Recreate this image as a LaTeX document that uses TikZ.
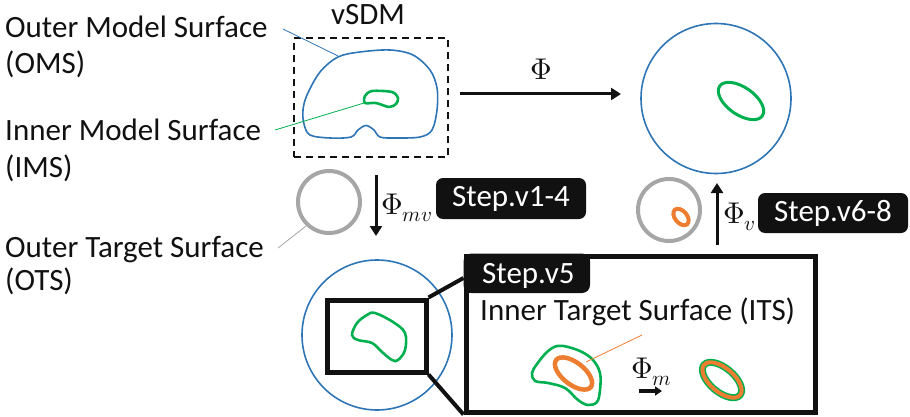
\documentclass[tikz,border=0pt]{standalone}
\usepackage{fontspec}
\usepackage{unicode-math}
\setmainfont{Carlito}
\setmathfont{Latin Modern Math}
\usetikzlibrary{arrows.meta}
\definecolor{cblue}{HTML}{2E75B6}
\definecolor{cgreen}{HTML}{00B050}
\definecolor{corange}{HTML}{ED7D31}
\definecolor{cgray}{HTML}{A6A6A6}
\definecolor{cblack}{HTML}{111111}
\begin{document}
\begin{tikzpicture}[x=1pt,y=-1pt,
  lbl/.style={font=\fontsize{31}{36}\selectfont, anchor=base west, inner sep=0pt, text=cblack},
  mlbl/.style={font=\fontsize{30}{34}\selectfont, inner sep=0pt, text=cblack},
  stepbox/.style={fill=cblack, text=white, rounded corners=7pt, inner sep=0pt,
     minimum width=150pt, minimum height=41pt, font=\fontsize{31}{36}\selectfont},
  bigarrow/.style={draw=cblack, line width=3pt, -{Triangle[length=10pt,width=12pt]}},
  bluec/.style={draw=cblue, line width=1.6pt},
  greenc/.style={draw=cgreen, line width=2.6pt},
  orangec/.style={draw=corange, line width=4.5pt},
  grayc/.style={draw=cgray, line width=4pt},
  leader/.style={line width=0.8pt}]
\useasboundingbox (0,0) rectangle (910,417);

% ---- left labels
\node[lbl] (oms1) at (5,38) {Outer Model Surface};
\node[lbl] (oms2) at (5,74) {(OMS)};
\node[lbl] (ims1) at (5,140) {Inner Model Surface};
\node[lbl] (ims2) at (5,177) {(IMS)};
\node[lbl] (ots1) at (5,257) {Outer Target Surface};
\node[lbl] (ots2) at (5,290) {(OTS)};

% ---- vSDM box
\node[lbl, anchor=base] (vsdmt) at (368,25) {vSDM};
\node[draw=cblack, line width=1.8pt, dash pattern=on 7pt off 5pt, minimum width=154pt,
      minimum height=119pt, inner sep=0pt] (vsdm) at (371,97.5) {};
\draw[bluec] plot[smooth cycle, tension=0.55] coordinates {
  (338,57) (360,52) (390,50) (413,55) (430,70) (437,88) (437,110) (432,130)
  (420,137) (395,138) (380,137) (374,130) (366,125.5) (358,130) (351,137) (330,138) (310,135)
  (304,124) (303,110) (307,95) (320,72)};
\draw[greenc] plot[smooth cycle, tension=0.5] coordinates {
  (365,96) (372,91) (392,92) (398,98) (396,104) (389,107) (376,103) (365,103)};
\coordinate (omsA) at (283,29);
\coordinate (omsB) at (338,56);
\coordinate (imsA) at (275,130);
\coordinate (imsB) at (364,103);
\draw[leader, cblue] (omsA) -- (omsB);
\draw[leader, cgreen] (imsA) -- (imsB);

% ---- Phi arrow
\coordinate (phiA) at (460,94);
\coordinate (phiB) at (621,94);
\draw[bigarrow] (phiA) -- (phiB);
\node[mlbl, anchor=base] (phil) at (541,80) {$\Phi$};

% ---- top right circle
\node[circle, draw=cblue, line width=1.6pt, minimum size=150pt, inner sep=0pt] (trc) at (716,98.5) {};
\draw[greenc, line width=3pt, rotate around={-35:(741,101)}] (741,101) ellipse[x radius=26pt, y radius=13.7pt];

% ---- left gray circle + phi_mv
\node[circle, grayc, minimum size=62pt, inner sep=0pt] (otsc) at (329,202) {};
\coordinate (otsA) at (278,248);
\coordinate (otsB) at (306,226);
\draw[leader, cgray] (otsA) -- (otsB);
\coordinate (mvA) at (376,175);
\coordinate (mvB) at (376,236);
\draw[bigarrow] (mvA) -- (mvB);
\node[mlbl, anchor=base west] (mvl) at (381,214) {$\Phi_{mv}$};
\node[stepbox] (s14) at (511,198.5) {Step.v1-4};

% ---- right gray circle + phi_v
\node[circle, grayc, minimum size=62pt, inner sep=0pt] (itsc) at (669,210) {};
\draw[corange, line width=4pt, rotate around={-50:(681,217)}] (681,217) ellipse[x radius=9.5pt, y radius=6pt];
\coordinate (vA) at (717,245);
\coordinate (vB) at (717,183);
\draw[bigarrow] (vA) -- (vB);
\node[mlbl, anchor=base west] (vl) at (723,223) {$\Phi_{v}$};
\node[stepbox, minimum height=40pt] (s68) at (833,213) {Step.v6-8};

% ---- bottom left circle
\node[circle, draw=cblue, line width=1.6pt, minimum size=150pt, inner sep=0pt] (blc) at (377,335) {};
\node[draw=cblack, line width=5pt, minimum width=99pt, minimum height=72pt, inner sep=0pt] (zoomr) at (376.5,336) {};
\draw[greenc] plot[smooth cycle, tension=0.6] coordinates {
  (352,335) (357,323) (367,315) (375,313) (393,322) (405,333) (405,350)
  (398,360) (392,360) (382,352) (372,343) (358,340)};

% ---- big box
\node[draw=cblack, line width=5pt, minimum width=349pt, minimum height=156pt, inner sep=0pt] (bigbox) at (640.5,334) {};
\draw[cblack, line width=4pt] (zoomr.north east) -- (bigbox.north west |- 0,278);
\draw[cblack, line width=4pt] (zoomr.south east) -- (bigbox.south west);
\fill[cblack, rounded corners=8pt] (463.5,253.5) rectangle (590,293);
\fill[cblack] (463.5,253.5) rectangle (580,293);
\fill[cblack] (463.5,253.5) rectangle (590,283);
\node[lbl, text=white] (s5) at (482,283) {Step.v5};
\node[lbl] (itst) at (480,320) {Inner Target Surface (ITS)};

\draw[greenc] plot[smooth cycle, tension=0.6] coordinates {
  (532,373) (537,364) (547,352) (557,346) (568,347) (582,352) (593,360)
  (600,373) (600,390) (597,402) (588,405) (578,400) (565,388) (548,383) (535,381)};
\draw[orangec, rotate around={-38:(573.5,373.5)}] (573.5,373.5) ellipse[x radius=22pt, y radius=11pt];
\coordinate (itsA) at (642,335);
\coordinate (itsB) at (586,362);
\draw[leader, corange] (itsA) -- (itsB);

\node[mlbl, anchor=base west] (ml) at (631,378) {$\Phi_{m}$};
\coordinate (mA) at (639,391);
\coordinate (mB) at (662,391);
\draw[cblack, line width=3.5pt, -{Triangle[length=7pt,width=9pt]}] (mA) -- (mB);

\draw[draw=cgreen, line width=7pt, rotate around={-40:(722,380)}] (722,380) ellipse[x radius=23.5pt, y radius=12pt];
\draw[draw=corange, line width=4pt, rotate around={-40:(722,380)}] (722,380) ellipse[x radius=23.5pt, y radius=12pt];
\end{tikzpicture}
\end{document}
